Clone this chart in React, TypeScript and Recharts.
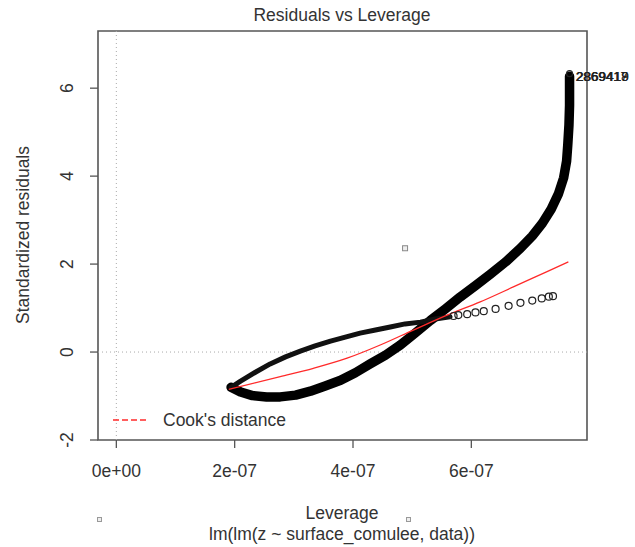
import { ComposedChart, Line, Scatter, XAxis, YAxis, ReferenceLine, ReferenceArea } from 'recharts';

// leverage values are kept in units of 1e-07
const E7 = 1e-7;

// dense lower arm of the loop (runs up into the vertical tail)
const lowerLev = [1.94, 2.10, 2.30, 2.54, 2.77, 3.03, 3.28, 3.53, 3.79, 4.04, 4.29, 4.55, 4.80, 5.05, 5.31, 5.56, 5.81, 6.07, 6.32, 6.58, 6.83, 7.03, 7.20, 7.35, 7.47, 7.56, 7.61, 7.63, 7.65, 7.66, 7.66, 7.66];
const lowerRes = [-0.80, -0.91, -0.99, -1.02, -1.02, -0.98, -0.89, -0.77, -0.64, -0.47, -0.27, -0.07, 0.16, 0.43, 0.72, 0.98, 1.25, 1.51, 1.77, 2.05, 2.36, 2.64, 2.93, 3.25, 3.59, 3.96, 4.34, 4.71, 5.16, 5.61, 6.00, 6.27];

// upper arm, dense part
const upperLev = [1.94, 2.10, 2.35, 2.60, 2.86, 3.11, 3.36, 3.62, 3.87, 4.12, 4.38, 4.63, 4.88, 5.14, 5.39, 5.64];
const upperRes = [-0.80, -0.66, -0.46, -0.27, -0.11, 0.02, 0.14, 0.25, 0.34, 0.43, 0.50, 0.57, 0.64, 0.68, 0.75, 0.80];

// upper arm, sparse circles at the high-leverage end
const sparseLev = [5.70, 5.78, 5.93, 6.07, 6.21, 6.41, 6.63, 6.83, 7.03, 7.19, 7.31, 7.38];
const sparseRes = [0.82, 0.84, 0.86, 0.90, 0.93, 0.98, 1.05, 1.12, 1.17, 1.22, 1.26, 1.27];

// red smoother
const smoothLev = [1.90, 2.77, 3.33, 3.90, 4.46, 5.02, 5.59, 6.15, 6.71, 7.28, 7.64];
const smoothRes = [-0.85, -0.56, -0.37, -0.14, 0.16, 0.50, 0.84, 1.14, 1.48, 1.83, 2.05];

// isolated point and the labelled extreme points
const strayLev = [4.88];
const strayRes = [2.36];
const topLev = [7.66];
const topRes = [6.33];
const topLabels = ['2869417', '2869418', '2869419'];

const xTicks = [0, 2, 4, 6];
const yTicks = [-2, 0, 2, 4, 6];
const X_DOMAIN = [-0.31, 7.955];
const Y_DOMAIN = [-2, 7.3];

const toRows = (lev: number[], res: number[]) => lev.map((l, i) => ({ lev: l * E7, rs: res[i] }));

const lower = toRows(lowerLev, lowerRes);
const upper = toRows(upperLev, upperRes);
const sparse = toRows(sparseLev, sparseRes);
const smooth = toRows(smoothLev, smoothRes);
const stray = toRows(strayLev, strayRes);
const top = toRows(topLev, topRes);

const FONT = '"Liberation Sans", Arial, sans-serif';
const TEXT = '#333';

const fmtLev = (v: number) => {
  const n = Math.round(v / E7);
  return n === 0 ? '0e+00' : `${n}e-07`;
};

const XTick = ({ x, y, payload }: any) => (
  <text x={x} y={y + 21} textAnchor="middle" dominantBaseline="central" fontFamily={FONT} fontSize={17.5} fill={TEXT}>
    {fmtLev(payload.value)}
  </text>
);

const YTick = ({ x, y, payload }: any) => (
  <text
    x={x - 21}
    y={y}
    textAnchor="middle"
    dominantBaseline="central"
    transform={`rotate(-90 ${x - 21} ${y})`}
    fontFamily={FONT}
    fontSize={17.5}
    fill={TEXT}
  >
    {payload.value}
  </text>
);

const HollowCircle = ({ cx, cy }: any) => (
  <circle cx={cx} cy={cy} r={3.5} fill="none" stroke="#222" strokeWidth={1.2} />
);

const SmallSquare = ({ cx, cy }: any) => (
  <rect x={cx - 2.5} y={cy - 2.5} width={5} height={5} fill="#eee" stroke="#888" strokeWidth={1} />
);

const TopPoint = ({ cx, cy }: any) => (
  <g>
    <circle cx={cx} cy={cy} r={3} fill="none" stroke="#222" strokeWidth={1.1} />
    {topLabels.map((t, i) => (
      <text key={t} x={cx + 6 + i * 0.4} y={cy + 3} dominantBaseline="central" fontFamily={FONT} fontSize={13.5} fill="#222">
        {t}
      </text>
    ))}
  </g>
);

export default function App() {
  return (
    <div style={{ position: 'absolute', left: 0, top: 0, width: 635, height: 547, background: '#fff' }}>
      <ComposedChart width={635} height={547} margin={{ top: 31, right: 48, left: 38, bottom: 77 }}>
        <XAxis
          type="number"
          dataKey="lev"
          domain={[X_DOMAIN[0] * E7, X_DOMAIN[1] * E7]}
          ticks={xTicks.map((t) => t * E7)}
          height={30}
          axisLine={false}
          tickLine={{ stroke: '#555', strokeWidth: 1.3 }}
          tickSize={8}
          tick={<XTick />}
        />
        <YAxis
          type="number"
          dataKey="rs"
          domain={Y_DOMAIN}
          ticks={yTicks}
          width={60}
          axisLine={false}
          tickLine={{ stroke: '#555', strokeWidth: 1.3 }}
          tickSize={8}
          tick={<YTick />}
        />
        <ReferenceLine x={0} stroke="#aaa" strokeDasharray="1 3" />
        <ReferenceLine y={0} stroke="#aaa" strokeDasharray="1 3" />
        <Line data={lower} dataKey="rs" type="linear" stroke="#000" strokeWidth={9.5} strokeLinecap="round" strokeLinejoin="round" dot={false} isAnimationActive={false} />
        <Line data={upper} dataKey="rs" type="linear" stroke="#111" strokeWidth={5} strokeLinecap="round" strokeLinejoin="round" dot={false} isAnimationActive={false} />
        <Scatter data={sparse} dataKey="rs" shape={<HollowCircle />} isAnimationActive={false} />
        <Line data={smooth} dataKey="rs" type="monotone" stroke="#ff2a2a" strokeWidth={1.3} dot={false} isAnimationActive={false} />
        <Scatter data={stray} dataKey="rs" shape={<SmallSquare />} isAnimationActive={false} />
        <Scatter data={top} dataKey="rs" shape={<TopPoint />} isAnimationActive={false} />
        <ReferenceArea
          x1={X_DOMAIN[0] * E7}
          x2={X_DOMAIN[1] * E7}
          y1={Y_DOMAIN[0]}
          y2={Y_DOMAIN[1]}
          fill="none"
          stroke="#555"
          strokeWidth={1.6}
          fillOpacity={0}
        />
      </ComposedChart>
      <svg width={635} height={547} style={{ position: 'absolute', left: 0, top: 0, pointerEvents: 'none' }}>
        <text x={342} y={15} textAnchor="middle" dominantBaseline="central" fontFamily={FONT} fontSize={17.5} fill={TEXT}>
          Residuals vs Leverage
        </text>
        <text x={23} y={235} textAnchor="middle" dominantBaseline="central" transform="rotate(-90 23 235)" fontFamily={FONT} fontSize={17.5} fill={TEXT}>
          Standardized residuals
        </text>
        <text x={342} y={513} textAnchor="middle" dominantBaseline="central" fontFamily={FONT} fontSize={17.5} fill={TEXT}>
          Leverage
        </text>
        <text x={342} y={534} textAnchor="middle" dominantBaseline="central" fontFamily={FONT} fontSize={17.5} fill={TEXT}>
          lm(lm(z ~ surface_comulee, data))
        </text>
        <line x1={113} y1={420} x2={148} y2={420} stroke="#ff2a2a" strokeWidth={1.3} strokeDasharray="6 3" />
        <text x={163} y={420} dominantBaseline="central" fontFamily={FONT} fontSize={17.5} fill={TEXT}>
          Cook's distance
        </text>
        <rect x={97.5} y={517.5} width={4} height={4} fill="#eee" stroke="#999" strokeWidth={1} />
        <rect x={406.5} y={517.5} width={4} height={4} fill="#eee" stroke="#999" strokeWidth={1} />
      </svg>
    </div>
  );
}
